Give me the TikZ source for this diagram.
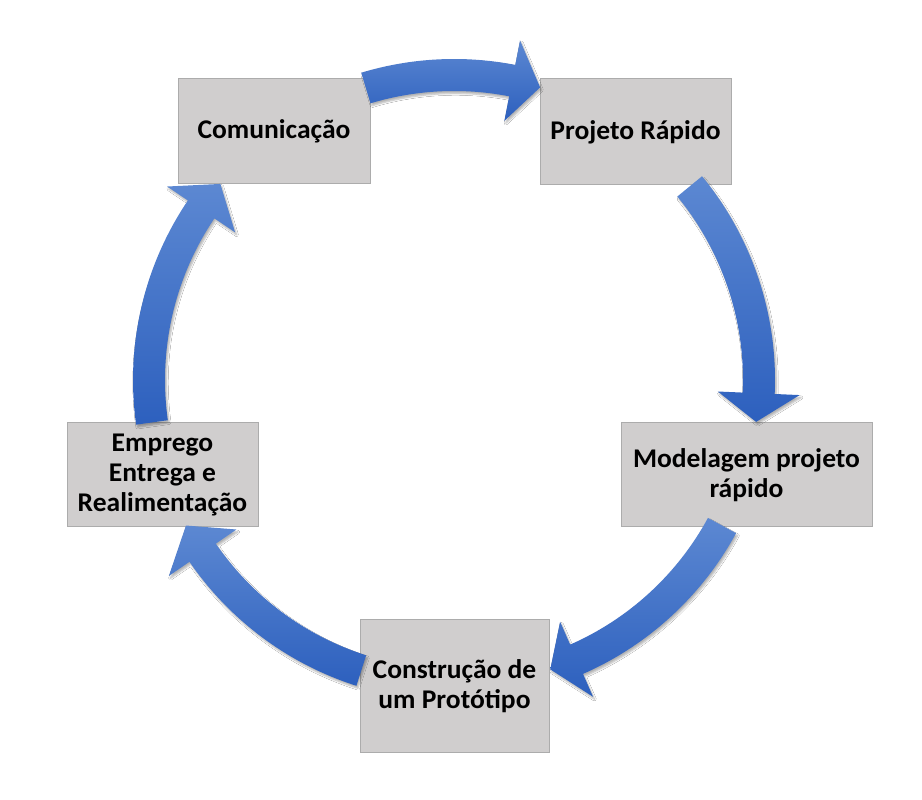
\documentclass[tikz,border=0pt]{standalone}
\usepackage{fontspec}
\newfontfamily\boxfont{Carlito}[FakeStretch=1.02]
\usetikzlibrary{shadows.blur}
\definecolor{boxfill}{RGB}{208,206,206}
\definecolor{boxline}{RGB}{172,172,172}
\definecolor{arrowtop}{RGB}{92,136,210}
\definecolor{arrowbot}{RGB}{45,96,190}
\tikzset{
  stagebox/.style={draw=boxline, line width=1pt, fill=boxfill, inner sep=0pt,
    align=center, text=black,
    font=\boxfont\bfseries\fontsize{27}{30}\selectfont},
  cyclearrow/.style={top color=arrowtop, bottom color=arrowbot, draw=none,
    blur shadow={shadow xshift=1.5pt, shadow yshift=-2.5pt, shadow blur steps=5, shadow opacity=30}},
}
\newcommand{\cyclearr}[3]{%
  \path[cyclearrow, shift={(C)}] (#1:321) arc[start angle=#1, end angle=#2, radius=321]
    -- (#2:346) -- (#3:305) -- (#2:264) -- (#2:289)
    arc[start angle=#2, end angle=#1, radius=289] -- cycle;
}
\begin{document}
\begin{tikzpicture}[x=1pt,y=1pt]
\useasboundingbox[fill=white] (0,0) rectangle (922,800);
\coordinate (C) at (454,420);
\node[stagebox, minimum width=192pt, minimum height=105pt] (com) at (274,668.5) {Comunicação};
\node[stagebox, minimum width=191pt, minimum height=106pt] (proj) at (635.5,668) {Projeto Rápido};
\node[stagebox, minimum width=251pt, minimum height=104pt] (mod) at (746.5,325) {Modelagem projeto\\rápido};
\node[stagebox, minimum width=189pt, minimum height=133pt] (cons) at (454.5,113.5) {Construção de\\um Protótipo};
\node[stagebox, minimum width=191pt, minimum height=104pt] (emp) at (162.5,325) {Emprego\\Entrega e\\Realimentação};
\cyclearr{106.8}{79}{73.6}
\cyclearr{39.4}{-2.5}{-7.9}
\cyclearr{-28.5}{-66.3}{-71.6}
\cyclearr{-107.7}{-145.5}{-151.5}
\cyclearr{-172}{-214}{-220}
\end{tikzpicture}
\end{document}
